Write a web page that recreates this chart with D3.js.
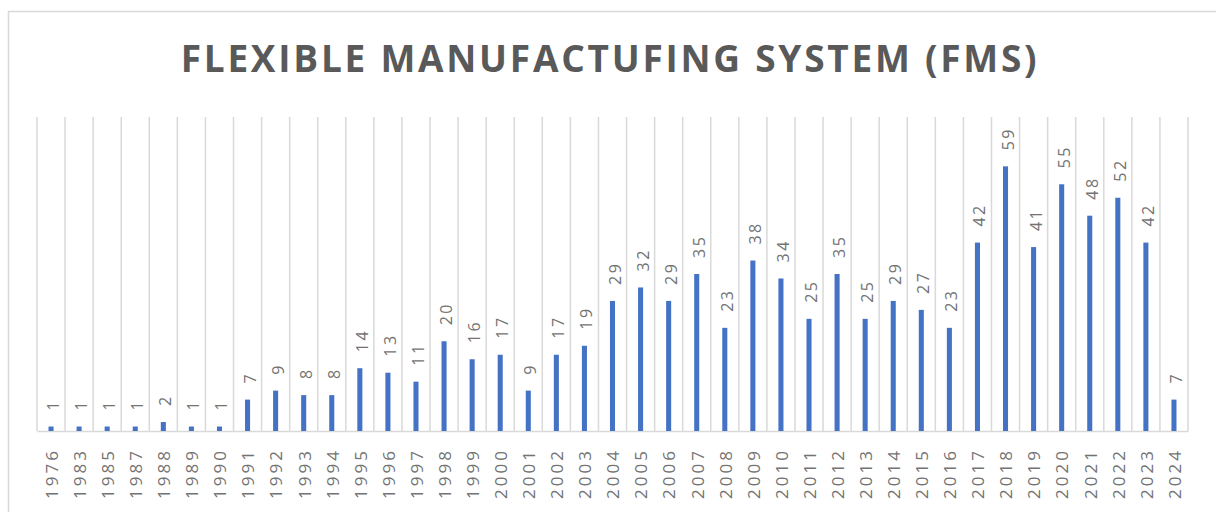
<!DOCTYPE html>
<html>
<head>
<meta charset="utf-8">
<script src="https://cdn.jsdelivr.net/npm/d3@7"></script>
<style>
	body { margin: 0; background: white; }
	svg { display: block; }
</style>
</head>
<body>
<div id="chart"></div>
<script>
const title = "FLEXIBLE MANUFACTUFING SYSTEM (FMS)"

const years = [
	"1976", "1983", "1985", "1987", "1988", "1989", "1990", "1991", "1992", "1993",
	"1994", "1995", "1996", "1997", "1998", "1999", "2000", "2001", "2002", "2003",
	"2004", "2005", "2006", "2007", "2008", "2009", "2010", "2011", "2012", "2013",
	"2014", "2015", "2016", "2017", "2018", "2019", "2020", "2021", "2022", "2023",
	"2024"
]

const counts = [
	1, 1, 1, 1, 2, 1, 1, 7, 9, 8,
	8, 14, 13, 11, 20, 16, 17, 9, 17, 19,
	29, 32, 29, 35, 23, 38, 34, 25, 35, 25,
	29, 27, 23, 42, 59, 41, 55, 48, 52, 42,
	7
]

const yMax = 70

const width = 1216
const height = 512
const plot = {left: 37, right: 1188, top: 117, bottom: 431}

const textColor = "#595959"
const labelColor = "#737373"
const gridColor = "#d9d9d9"
const barColor = "#4472C4"

const data = years.map((year, i) => ({year, value: counts[i]}))

const svg = d3.select("#chart")
	.append("svg")
	.attr("width", width)
	.attr("height", height)

// chart frame
svg.append("rect")
	.attr("x", 8.5)
	.attr("y", 11.5)
	.attr("width", width)
	.attr("height", height)
	.attr("fill", "white")
	.attr("stroke", gridColor)
	.attr("stroke-width", 1.5)

svg.append("text")
	.attr("x", 610)
	.attr("y", 72)
	.attr("text-anchor", "middle")
	.attr("font-family", "'Open Sans', sans-serif")
	.attr("font-weight", "bold")
	.attr("font-size", 37)
	.attr("letter-spacing", 2.75)
	.attr("fill", textColor)
	.text(title)

const x = d3.scaleBand()
	.domain(years)
	.range([plot.left, plot.right])
	.paddingInner(0.82)
	.paddingOuter(0.41)

const y = d3.scaleLinear()
	.domain([0, yMax])
	.range([plot.bottom, plot.top])

// vertical gridlines on category borders
const borders = years.map(d => x(d) - x.step() * x.paddingInner() / 2)
borders.push(plot.right)

svg.append("g")
	.selectAll("line")
	.data(borders)
	.enter()
	.append("line")
	.attr("x1", d => d)
	.attr("x2", d => d)
	.attr("y1", y(yMax))
	.attr("y2", y(0))
	.attr("stroke", gridColor)
	.attr("stroke-width", 1.5)

// x axis
const xAxis = svg.append("g")
	.attr("transform", `translate(0,${y(0)})`)
	.call(d3.axisBottom(x).tickSize(0).tickPadding(0))

xAxis.select(".domain")
	.attr("stroke", gridColor)
	.attr("stroke-width", 1.5)

xAxis.selectAll("text")
	.attr("transform", "rotate(-90)")
	.attr("x", -17)
	.attr("y", 0)
	.attr("dy", "0.4em")
	.attr("text-anchor", "end")
	.attr("font-family", "'Open Sans', sans-serif")
	.attr("font-size", 17)
	.attr("letter-spacing", 3)
	.attr("fill", labelColor)

// bars
svg.append("g")
	.selectAll("rect")
	.data(data)
	.enter()
	.append("rect")
	.attr("x", d => x(d.year))
	.attr("y", d => y(d.value))
	.attr("width", x.bandwidth())
	.attr("height", d => y(0) - y(d.value))
	.attr("fill", barColor)

// value labels
svg.append("g")
	.selectAll("text")
	.data(data)
	.enter()
	.append("text")
	.attr("transform", d => `translate(${x(d.year) + x.bandwidth() / 2},${y(d.value) - 16}) rotate(-90)`)
	.attr("dy", "0.5em")
	.attr("font-family", "'Open Sans', sans-serif")
	.attr("font-size", 16)
	.attr("letter-spacing", 2.5)
	.attr("fill", labelColor)
	.text(d => d.value)
</script>
</body>
</html>
